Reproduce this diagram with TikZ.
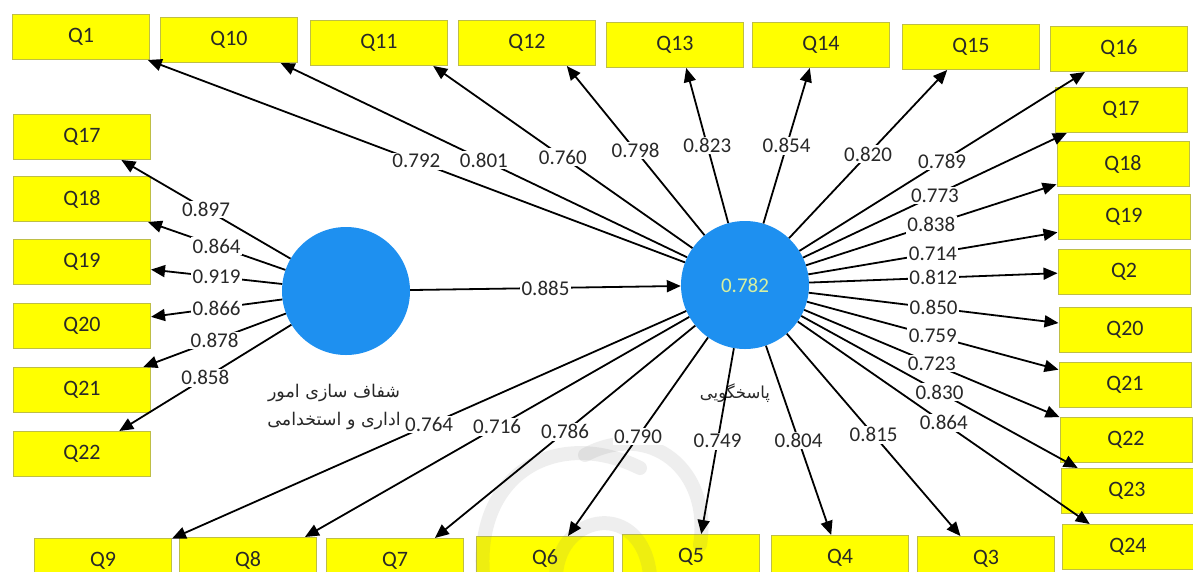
\documentclass[tikz,border=0pt]{standalone}
\usepackage{fontspec}
\setmainfont{Carlito}
\newfontfamily\farsi[Script=Arabic]{DejaVu Sans}
\TeXXeTstate=1
\usetikzlibrary{arrows.meta}
\definecolor{boxfill}{RGB}{255,255,0}
\definecolor{boxline}{RGB}{190,190,70}
\definecolor{lvblue}{RGB}{30,144,240}
\definecolor{rsq}{RGB}{215,240,160}
\definecolor{txt}{RGB}{40,40,40}
\begin{document}
\begin{tikzpicture}[x=1pt,y=-1pt,
  item/.style={draw=boxline, line width=1pt, fill=boxfill, minimum width=137pt,
    minimum height=45pt, inner sep=0pt, font=\fontsize{22}{24}\selectfont, text=txt},
  itemr/.style={item, minimum width=132pt},
  latent/.style={circle, fill=lvblue, minimum size=128pt, inner sep=0pt},
  load/.style={-{Triangle[length=14pt,width=12pt]}, line width=1.8pt, black},
  w/.style={midway, fill=white, inner sep=1.5pt, font=\fontsize{21}{23}\selectfont, text=txt},
  seal/.style={line width=14pt, gray, opacity=0.13, line cap=round}
]
\useasboundingbox (0,0) rectangle (1193,571);
\fill[white] (0,0) rectangle (1193,571);

% indicator boxes: top row
\node[item] (t1)  at (81,37)   {Q1};
\node[item] (t10) at (229,40)  {Q10};
\node[item] (t11) at (379,43)  {Q11};
\node[item] (t12) at (527,43)  {Q12};
\node[item] (t13) at (675,45)  {Q13};
\node[item] (t14) at (821,45)  {Q14};
\node[item] (t15) at (971,47)  {Q15};
\node[item] (t16) at (1119,49) {Q16};

% left column
\node[item] (l17) at (82,137) {Q17};
\node[item] (l18) at (82,199) {Q18};
\node[item] (l19) at (82,262) {Q19};
\node[item] (l20) at (82,326) {Q20};
\node[item] (l21) at (82,390) {Q21};
\node[item] (l22) at (82,454) {Q22};

% right column
\node[itemr] (r17) at (1121,110) {Q17};
\node[itemr] (r18) at (1123,164) {Q18};
\node[itemr] (r19) at (1124,217) {Q19};
\node[itemr] (r2)  at (1124,272) {Q2};
\node[itemr] (r20) at (1125,330) {Q20};
\node[itemr] (r21) at (1125,385) {Q21};
\node[itemr] (r22) at (1126,440) {Q22};
\node[itemr] (r23) at (1127,491) {Q23};
\node[itemr] (r24) at (1128,547) {Q24};

% bottom row
\node[item] (b9) at (103,561) {Q9};
\node[item] (b8) at (248,560) {Q8};
\node[item] (b7) at (395,561) {Q7};
\node[item] (b6) at (545,559) {Q6};
\node[item] (b5) at (691,557) {Q5};
\node[item] (b4) at (840,558) {Q4};
\node[item] (b3) at (986,559) {Q3};

% faint seal in the background
\draw[seal] (483,575) .. controls (475,470) and (560,428) .. (640,468);
\draw[seal] (585,455) .. controls (650,420) and (712,470) .. (700,545);
\draw[seal] (556,575) .. controls (560,512) and (642,500) .. (650,575);

% latent variables
\node[latent] (c1) at (346,291) {};
\node[latent, text=rsq, font=\fontsize{21}{23}\selectfont] (c2) at (745,285) {0.782};
\node[font=\farsi\fontsize{17.5}{28}\selectfont, align=center, text=txt] (n1) at (334,407)
  {\beginR شفاف سازی امور\endR\\\beginR اداری و استخدامی\endR};
\node[font=\farsi\fontsize{16.5}{20}\selectfont, text=txt] (n2) at (735,393) {\beginR پاسخگویی\endR};

% structural path
\draw[load] (c1) -- node[w]{0.885} (c2);

% loadings of the first construct
\draw[load] (c1) -- node[w]{0.897} (l17);
\draw[load] (c1) -- node[w]{0.864} (l18);
\draw[load] (c1) -- node[w]{0.919} (l19);
\draw[load] (c1) -- node[w]{0.866} (l20);
\draw[load] (c1) -- node[w]{0.878} (l21);
\draw[load] (c1) -- node[w]{0.858} (l22);

% loadings of the second construct: top row
\draw[load] (c2) -- node[w]{0.792} (t1.-19);
\draw[load] (c2) -- node[w]{0.801} (t10.-24);
\draw[load] (c2) -- node[w]{0.760} (t11.-23);
\draw[load] (c2) -- node[w]{0.798} (t12.-30);
\draw[load] (c2) -- node[w]{0.823} (t13.-64);
\draw[load] (c2) -- node[w]{0.854} (t14.-116);
\draw[load] (c2) -- node[w]{0.820} (t15.-136);
\draw[load] (c2) -- node[w]{0.789} (t16.-146);

% right column
\draw[load] (c2) -- node[w]{0.773} (r17.-157);
\draw[load] (c2) -- node[w]{0.838} (r18.-163);
\draw[load] (c2) -- node[w]{0.714} (r19.-167);
\draw[load] (c2) -- node[w]{0.812} (r2.-179);
\draw[load] (c2) -- node[w]{0.850} (r20.174);
\draw[load] (c2) -- node[w]{0.759} (r21.167);
\draw[load] (c2) -- node[w]{0.723} (r22.161);
\draw[load] (c2) -- node[w]{0.830} (r23.155);
\draw[load] (c2) -- node[w]{0.864} (r24.149);

% bottom row
\draw[load] (c2) -- node[w]{0.764} (b9.18);
\draw[load] (c2) -- node[w]{0.716} (b8.22);
\draw[load] (c2) -- node[w]{0.786} (b7.30);
\draw[load] (c2) -- node[w]{0.790} (b6.45);
\draw[load] (c2) -- node[w]{0.749} (b5.66);
\draw[load] (c2) -- node[w]{0.804} (b4.111);
\draw[load] (c2) -- node[w]{0.815} (b3.138);
\end{tikzpicture}
\end{document}
